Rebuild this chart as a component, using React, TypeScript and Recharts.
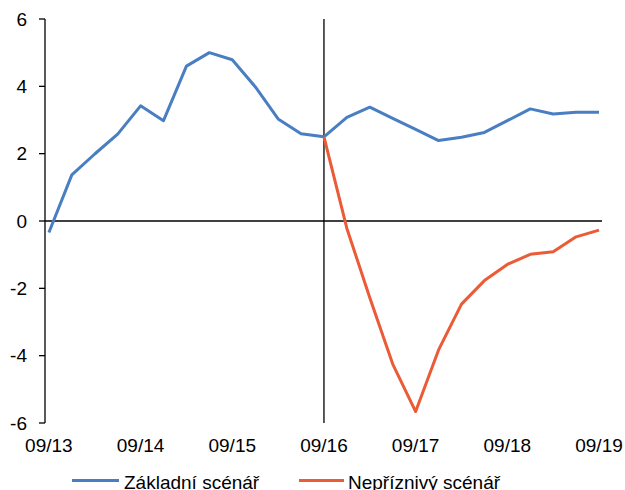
import React from 'react';
import { LineChart, Line, XAxis, YAxis, ReferenceLine, Legend } from 'recharts';

// Quarterly path from 09/13 to 09/19 (25 quarters)
const yearTicks = ['09/13', '09/14', '09/15', '09/16', '09/17', '09/18', '09/19'];
const baselineValues = [
  -0.34, 1.37, 1.99, 2.58, 3.42, 2.98, 4.6, 5.0, 4.79, 3.99, 3.03, 2.59, 2.5,
  3.08, 3.38, 3.05, 2.72, 2.39, 2.49, 2.63, 2.98, 3.33, 3.18, 3.23, 3.23,
];
const adverseValues: (number | null)[] = [
  null, null, null, null, null, null, null, null, null, null, null, null, 2.5,
  -0.22, -2.28, -4.25, -5.66, -3.83, -2.47, -1.77, -1.29, -0.99, -0.91, -0.47, -0.27,
];
const seriesNames = ['Základní scénář', 'Nepříznivý scénář'];
const yTicks = [-6, -4, -2, 0, 2, 4, 6];

const BLUE = '#4A7EC3';
const RED = '#EA5B36';
const FONT = 'Liberation Sans, Arial, sans-serif';
const FONT_SIZE = 19;

const data = baselineValues.map((v, i) => ({
  q: i,
  base: v,
  adverse: adverseValues[i],
}));

const xTickPositions = yearTicks.map((_, i) => i * 4);

const LegendContent = () => (
  <div style={{ position: 'relative', width: 625, height: 37, fontFamily: FONT, fontSize: FONT_SIZE, color: '#000' }}>
    <div style={{ position: 'absolute', left: 72, top: 26, width: 47, height: 3, background: BLUE }} />
    <div style={{ position: 'absolute', left: 124, top: 19, lineHeight: '22px', whiteSpace: 'nowrap' }}>{seriesNames[0]}</div>
    <div style={{ position: 'absolute', left: 299, top: 26, width: 45, height: 3, background: RED }} />
    <div style={{ position: 'absolute', left: 348, top: 19, lineHeight: '22px', whiteSpace: 'nowrap' }}>{seriesNames[1]}</div>
  </div>
);

export default function App() {
  return (
    <div style={{ position: 'absolute', left: 0, top: 0, background: '#fff' }}>
      <LineChart
        width={625}
        height={490}
        data={data}
        margin={{ top: 19, right: 23, bottom: 0, left: 0 }}
      >
        <XAxis
          dataKey="q"
          type="number"
          domain={[-0.17, 24.13]}
          allowDataOverflow
          ticks={xTickPositions}
          tickFormatter={(v: number) => yearTicks[v / 4]}
          axisLine={false}
          tickLine={false}
          tickSize={0}
          tickMargin={16}
          height={30}
          interval={0}
          tick={{ fill: '#000', fontSize: FONT_SIZE, fontFamily: FONT }}
        />
        <YAxis
          type="number"
          domain={[-6, 6]}
          ticks={yTicks}
          interval={0}
          width={45}
          axisLine={{ stroke: '#000', strokeWidth: 1.3 }}
          tickLine={{ stroke: '#000', strokeWidth: 1.3 }}
          tickSize={6}
          tickMargin={12}
          tick={{ fill: '#000', fontSize: FONT_SIZE, fontFamily: FONT }}
        />
        <Legend verticalAlign="bottom" content={<LegendContent />} wrapperStyle={{ left: 0, width: 625 }} />
        <ReferenceLine y={0} stroke="#000" strokeWidth={1.3} />
        <ReferenceLine x={12} stroke="#000" strokeWidth={1.3} />
        <Line
          dataKey="base"
          name={seriesNames[0]}
          stroke={BLUE}
          strokeWidth={3}
          dot={false}
          activeDot={false}
          isAnimationActive={false}
          strokeLinejoin="round"
        />
        <Line
          dataKey="adverse"
          name={seriesNames[1]}
          stroke={RED}
          strokeWidth={3}
          dot={false}
          activeDot={false}
          isAnimationActive={false}
          strokeLinejoin="round"
        />
      </LineChart>
    </div>
  );
}
